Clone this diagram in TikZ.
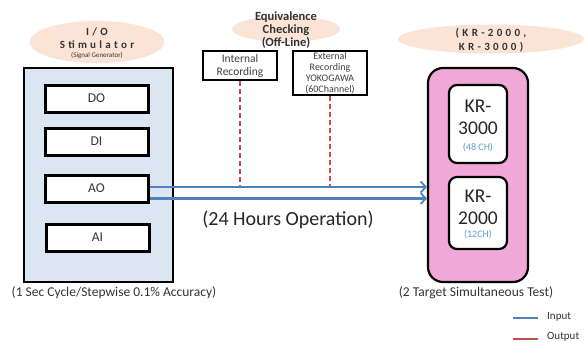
\documentclass[tikz,border=0pt]{standalone}
\usepackage{fontspec}
\setmainfont{Carlito}
\usetikzlibrary{shapes.geometric,arrows.meta}
\definecolor{peach}{HTML}{FBE4D5}
\definecolor{paleblue}{HTML}{DCE6F2}
\definecolor{kpink}{HTML}{EFA8D8}
\definecolor{inblue}{HTML}{4F81BD}
\definecolor{outred}{HTML}{C0504D}
\definecolor{chblue}{HTML}{5B9BD5}
\newcommand{\fs}[2]{\fontsize{#1}{#2}\selectfont}
\newcommand{\spaced}[1]{{\addfontfeatures{LetterSpace=30}#1}}
\tikzset{
  x=1pt, y=-1pt,
  cloud/.style={ellipse, fill=peach, draw=none, inner sep=0pt},
  headtxt/.style={align=center, text=black!80, inner sep=0pt},
  sigbox/.style={draw=black, line width=3pt, fill=white, minimum width=103pt, minimum height=27pt, inner sep=0pt, font=\fs{13.5}{16}, text=black!80},
  recbox/.style={draw=black, line width=2.4pt, fill=white, inner sep=0pt, align=center, text=black!75},
  krbox/.style={draw=black, line width=2.2pt, fill=white, rounded corners=8pt, inner sep=0pt, align=center, text=black!85},
  inline/.style={draw=inblue, line width=2.2pt, -{Straight Barb[length=5pt,width=11pt,line width=1.8pt]}},
  outline/.style={draw=outred, line width=2.2pt, dash pattern=on 5pt off 3pt},
  caption/.style={font=\fs{13.5}{16}, text=black!80, inner sep=0pt},
}
\begin{document}
\begin{tikzpicture}
\useasboundingbox (0,0) rectangle (586,341);

% I/O stimulator
\node[cloud, minimum width=135pt, minimum height=42pt] (iocloud) at (97,42) {};
\node[headtxt, font=\bfseries\fs{11}{13}] (iotitle) at (97,38.5) {\spaced{I/O}\\\spaced{Stimulator}};
\node[inner sep=0pt, font=\fs{7}{8}, text=black!80] (iosub) at (97,56) {(Signal Generator)};
\node[draw=black, line width=2.6pt, fill=paleblue, minimum width=149pt, minimum height=214pt, inner sep=0pt] (stim) at (98.5,175) {};
\node[sigbox] (DO) at (96.5,98.5) {DO};
\node[sigbox] (DI) at (96.5,141.5) {DI};
\node[sigbox] (AO) at (96.5,188.5) {AO};
\node[sigbox] (AI) at (97.5,237.5) {AI};
\node[caption] (stimcap) at (114,293) {(1 Sec Cycle/Stepwise 0.1\% Accuracy)};

% Equivalence checking
\node[cloud, minimum width=108pt, minimum height=26pt] (eqcloud) at (286,29) {};
\node[headtxt, font=\bfseries\fs{12.5}{13}] (eqtitle) at (286,30) {Equivalence\\Checking\\(Off-Line)};
\node[recbox, minimum width=74pt, minimum height=29pt, font=\fs{11.5}{13}] (intrec) at (240,65.5) {Internal\\Recording};
\node[recbox, minimum width=74pt, minimum height=44pt, font=\fs{10}{11}] (extrec) at (330,73) {External\\Recording\\YOKOGAWA\\(60Channel)};

% Targets
\node[cloud, minimum width=186pt, minimum height=29pt] (krcloud) at (491,39) {};
\node[headtxt, font=\bfseries\fs{11}{13.5}] (krtitle) at (491,40) {\spaced{(KR-2000,}\\\spaced{KR-3000)}};
\node[draw=black, line width=2.2pt, fill=kpink, rounded corners=15pt, minimum width=100pt, minimum height=214pt, inner sep=0pt] (target) at (478,175) {};
\node[krbox, minimum width=58pt, minimum height=78pt] (kr3) at (478,124) {};
\node[align=center, inner sep=0pt, font=\fs{19.5}{22}, text=black!85] (kr3txt) at (478,117) {KR-\\3000};
\node[inner sep=0pt, font=\fs{10}{11}, text=chblue] (kr3ch) at (478,148) {(48 CH)};
\node[krbox, minimum width=58pt, minimum height=72pt] (kr2) at (478,213) {};
\node[align=center, inner sep=0pt, font=\fs{19.5}{22}, text=black!85] (kr2txt) at (478,207) {KR-\\2000};
\node[inner sep=0pt, font=\fs{10}{11}, text=chblue] (kr2ch) at (478,235) {(12CH)};
\node[caption] (tgtcap) at (476,293) {(2 Target Simultaneous Test)};

% Input links from AO to the targets, recorder taps in red
\coordinate (a1s) at ([yshift=1.5pt]AO.east);
\coordinate (a2s) at ([yshift=-10pt]AO.east);
\coordinate (a1e) at (a1s -| target.west);
\coordinate (a2e) at (a2s -| target.west);
\draw[outline] (intrec.south) -- (intrec.south |- a1s);
\draw[outline] (extrec.south) -- (extrec.south |- a1s);
\draw[inline] (a1s) -- (a1e);
\draw[inline] (a2s) -- (a2e);
\node[inner sep=0pt, font=\fs{20}{22}, text=black!85] (optxt) at (288,220) {(24 Hours Operation)};

% Legend
\coordinate (lin1) at (513,318);
\coordinate (lin2) at (538,318);
\coordinate (lout1) at (513,339);
\coordinate (lout2) at (538,339);
\draw[draw=inblue, line width=2.8pt] (lin1) -- (lin2);
\draw[draw=outred, line width=2.8pt] (lout1) -- (lout2);
\node[anchor=west, inner sep=0pt, font=\fs{11}{12}, text=black!80] (linlab) at (547,317) {Input};
\node[anchor=west, inner sep=0pt, font=\fs{11}{12}, text=black!80] (loutlab) at (547,337) {Output};
\end{tikzpicture}
\end{document}
